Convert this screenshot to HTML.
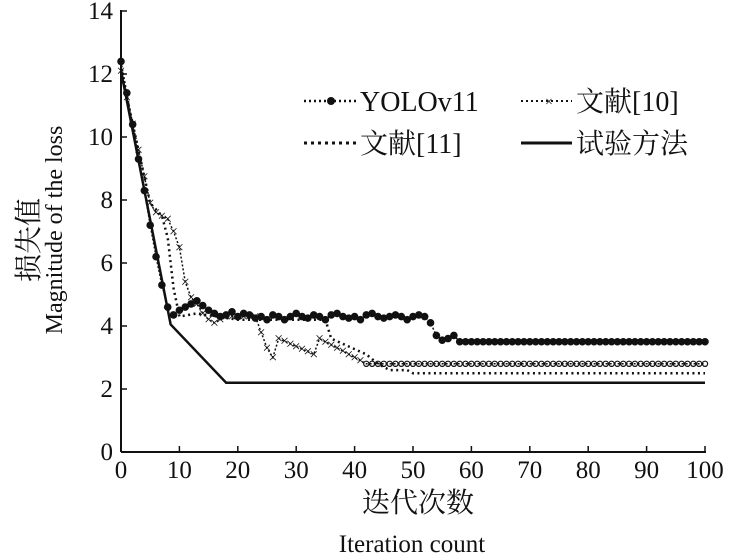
<!DOCTYPE html>
<html><head><meta charset="utf-8"><style>
body{margin:0;background:#fff;}
svg{display:block;}
text{font-family:"Liberation Serif","Noto Serif CJK SC",serif;fill:#111;}
</style></head><body>
<svg id="s" width="734" height="555" xmlns="http://www.w3.org/2000/svg">
<g stroke="#111" stroke-width="2" fill="none">
<line x1="121" y1="10" x2="121" y2="452"/>
<line x1="121" y1="452" x2="706" y2="452"/>
</g>
<g id="ticks" stroke="#111" stroke-width="1.5"></g>
<g id="lab" font-size="25" text-anchor="end"></g>
<g id="xlab" font-size="25" text-anchor="middle"></g>
<g id="data"></g>
<text x="418" y="512" font-size="28" text-anchor="middle">迭代次数</text>
<text x="412" y="552" font-size="25" text-anchor="middle">Iteration count</text>
<text transform="translate(38,240) rotate(-90)" font-size="28" text-anchor="middle">损失值</text>
<text transform="translate(62,230) rotate(-90)" font-size="24" text-anchor="middle">Magnitude of the loss</text>
<g font-size="28">
<line x1="304" y1="101" x2="356" y2="101" stroke="#111" stroke-width="2.5" stroke-dasharray="2,3"/>
<circle cx="331" cy="101" r="4" fill="#111"/>
<text x="360" y="111">YOLOv11</text>
<line x1="521" y1="101" x2="572" y2="101" stroke="#111" stroke-width="2" stroke-dasharray="2,3"/>
<text x="545" y="106" font-size="14">×</text>
<text x="576" y="111">文献[10]</text>
<line x1="304" y1="143" x2="356" y2="143" stroke="#111" stroke-width="3" stroke-dasharray="3,4"/>
<text x="360" y="153">文献[11]</text>
<line x1="521" y1="143" x2="572" y2="143" stroke="#111" stroke-width="3"/>
<text x="576" y="153">试验方法</text>
</g>
</svg>
<script>
const X=v=>121+5.84*v, Y=v=>452-31.5*v, NS="http://www.w3.org/2000/svg";
function el(p,t,a){const e=document.createElementNS(NS,t);for(const k in a)e.setAttribute(k,a[k]);document.getElementById(p).appendChild(e);return e;}
for(let i=0;i<=14;i+=2){el('ticks','line',{x1:121,y1:Y(i),x2:127,y2:Y(i)});const t=el('lab','text',{x:113,y:Y(i)+8});t.textContent=i;}
for(let i=0;i<=100;i+=10){if(i>0)el('ticks','line',{x1:X(i),y1:452,x2:X(i),y2:446});const t=el('xlab','text',{x:X(i),y:478});t.textContent=i;}
function interp(pts){const r=[];for(let v=0;v<=100;v++){for(let j=0;j<pts.length-1;j++){const a=pts[j],b=pts[j+1];if(v>=a[0]&&v<=b[0]){r.push([v,a[1]+(b[1]-a[1])*(v-a[0])/(b[0]-a[0])]);break;}}}return r;}
function path(pts,attrs){el('data','polyline',Object.assign({points:pts.map(p=>X(p[0])+','+Y(p[1])).join(' '),fill:'none',stroke:'#111'},attrs));}
path([[0,12.1],[8.5,4.05],[18,2.2],[100,2.2]],{'stroke-width':2.5});
let r11=interp([[0,12.1],[5,7.9],[7,7.5],[8,6.8],[9,5.2],[10,4.3],[13,4.4],[20,4.2],[35,4.2],[36,3.6],[42,3.1],[44,2.8],[46,2.6],[49,2.6],[50,2.5],[100,2.5]]);
path(r11,{'stroke-width':2.5,'stroke-dasharray':'2,3.5'});
let r10=interp([[0,12.1],[5,7.9],[6,7.6],[8,7.4],[9,7.0],[10,6.5],[11,5.4],[12,4.9],[13,4.7],[14,4.4],[15,4.2],[16,4.1],[18,4.3],[23,4.3],[24,3.8],[25,3.3],[26,3.0],[27,3.6],[33,3.1],[34,3.6],[40,3.0],[42,2.8],[100,2.8]]);
path(r10,{'stroke-width':1.5,'stroke-dasharray':'2,2'});
r10.forEach(p=>{if(p[0]<42){const t=el('data','text',{x:X(p[0]),y:Y(p[1])+5,'font-size':16,'text-anchor':'middle'});t.textContent='×';}else el('data','circle',{cx:X(p[0]),cy:Y(p[1]),r:2.6,fill:'none',stroke:'#111','stroke-width':1.2});});
let yv=[12.4,11.4,10.4,9.3,8.3,7.2,6.2,5.3,4.6,4.35,4.5,4.6,4.7,4.8,4.65,4.5,4.4,4.3,4.35,4.45,4.3,4.4,4.35,4.25,4.3,4.2,4.35,4.3,4.2,4.3,4.4,4.3,4.25,4.35,4.3,4.2,4.35,4.4,4.3,4.25,4.3,4.2,4.35,4.4,4.3,4.25,4.3,4.35,4.3,4.2,4.3,4.35,4.3,4.1,3.7,3.55,3.6,3.7,3.5];
let yo=[];for(let v=0;v<=100;v++)yo.push([v,v<yv.length?yv[v]:3.5]);
path(yo,{'stroke-width':1.5,'stroke-dasharray':'2,2'});
yo.forEach(p=>el('data','circle',{cx:X(p[0]),cy:Y(p[1]),r:3.8,fill:'#111'}));
</script>
</body></html>
